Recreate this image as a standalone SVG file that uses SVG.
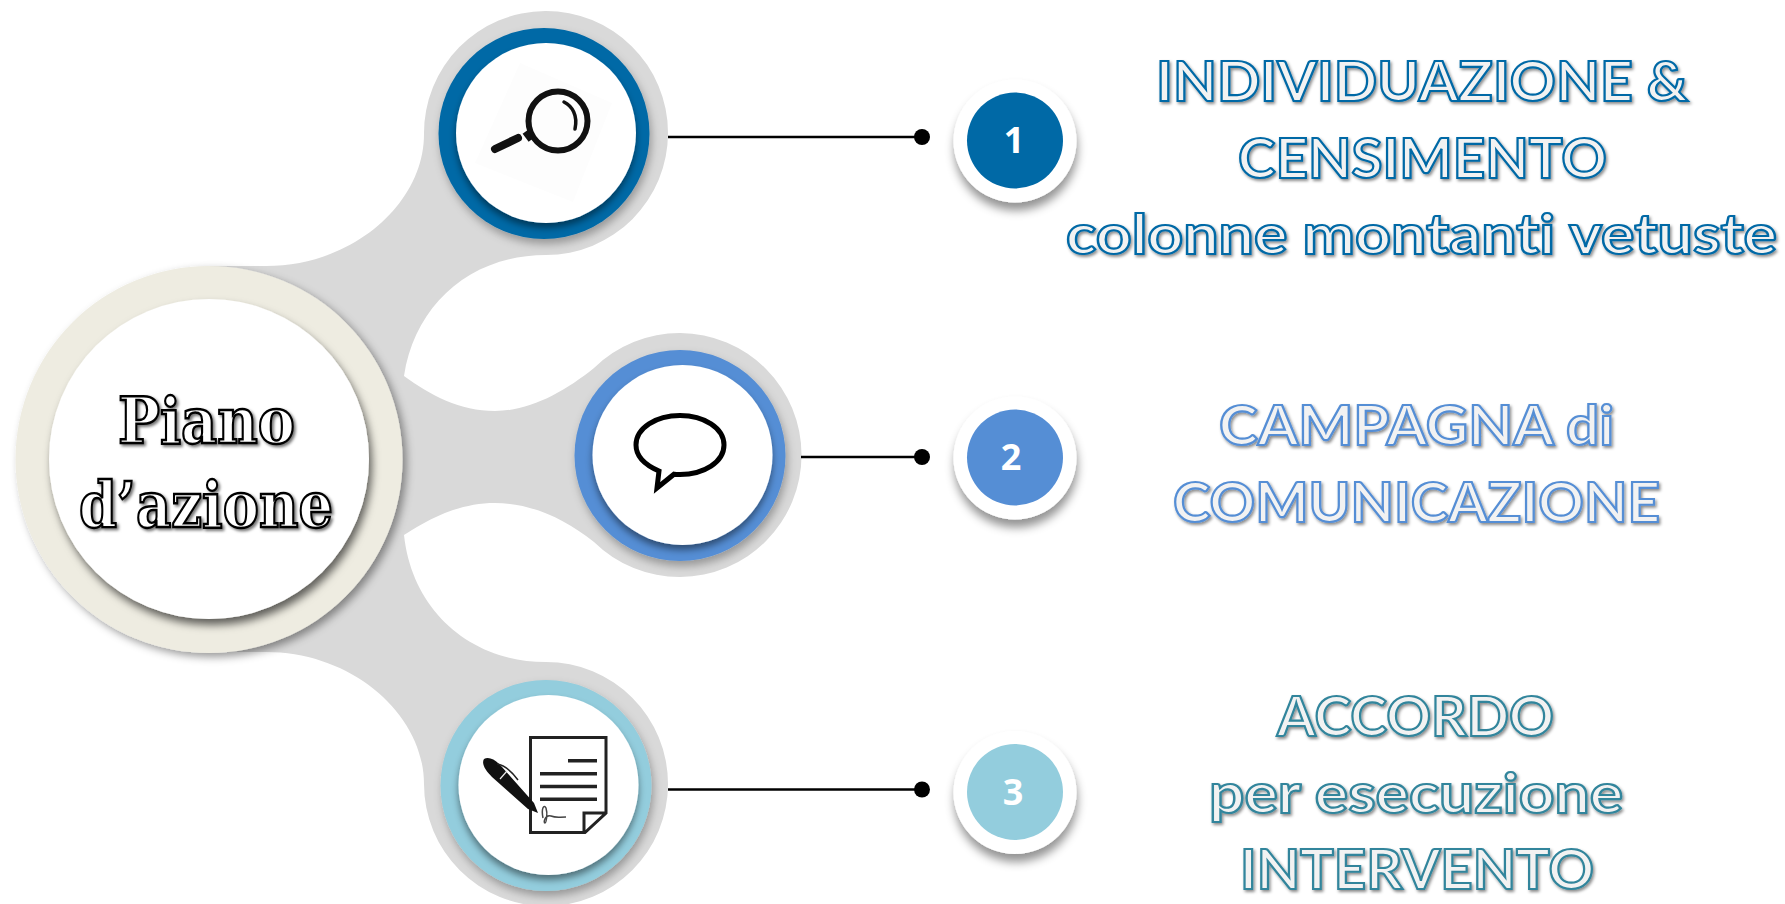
<svg xmlns="http://www.w3.org/2000/svg" width="1785" height="904" viewBox="0 0 1785 904">
<style>
.ring{filter:url(#sh)}
.inner{fill:#fff;filter:url(#sh2)}
.num{fill:#fff;filter:url(#sh3)}
.n{font:700 36px "Open Sans","Liberation Sans",sans-serif;fill:#fff;text-anchor:middle}
.t{font-family:Lato,"Liberation Sans",sans-serif;font-weight:700;font-size:56px;font-variant-ligatures:none;fill:#f2f2f2;stroke-width:2.2;filter:url(#ts)}
.a{stroke:#0069a6}.b{stroke:#558ed5}.c{stroke:#31859c}
.p{font-family:"DejaVu Serif","Liberation Serif",serif;font-weight:700;font-size:63px;font-variant-ligatures:none;fill:#fff;stroke:#000;stroke-width:2.4;filter:url(#ts2)}
.ln{stroke:#000;stroke-width:2.6;fill:none}
</style>
<defs>
<filter id="sh" x="-20%" y="-20%" width="140%" height="140%"><feDropShadow dx="2" dy="5" stdDeviation="4" flood-color="#000" flood-opacity=".3"/></filter>
<filter id="sh2" x="-20%" y="-20%" width="140%" height="140%"><feDropShadow dx="0" dy="5" stdDeviation="3.500" flood-color="#000" flood-opacity=".45"/></filter>
<filter id="sh3" x="-30%" y="-30%" width="160%" height="160%"><feDropShadow dx="1" dy="8" stdDeviation="5" flood-color="#000" flood-opacity=".42"/></filter>
<filter id="sh4" x="-20%" y="-20%" width="140%" height="140%"><feDropShadow dx="3" dy="6" stdDeviation="4" flood-color="#000" flood-opacity=".6"/></filter>
<filter id="sh5" x="-20%" y="-20%" width="140%" height="140%"><feDropShadow dx="4" dy="4" stdDeviation="4" flood-color="#000" flood-opacity=".4"/></filter>
<filter id="ts" x="-5%" y="-20%" width="110%" height="140%"><feDropShadow dx="1.500" dy="2" stdDeviation="1.600" flood-color="#000" flood-opacity=".45"/></filter>
<filter id="ts2" x="-5%" y="-20%" width="110%" height="140%"><feDropShadow dx="2" dy="2" stdDeviation="1.500" flood-color="#000" flood-opacity=".55"/></filter>
</defs>

<path id="blob" fill="#d9d9d9" d="M209,266 H262 C350,268 424,205 424,134 A122,122 0 1 1 546,255 C470,255 415,305 404,376 C430,395 460,411 495,411 C530,411 564,392 594,368 A122,122 0 1 1 594,542 C564,518 530,503 495,503 C460,503 430,518 404,535 C412,610 470,662 546,662 A122,122 0 1 1 424,784 C424,713 350,650 262,652 H209 Z"/>

<g id="connectors">
<path class="ln" d="M668,137 H922"/><circle cx="922" cy="137" r="8"/>
<path class="ln" d="M801,457 H922"/><circle cx="922" cy="457" r="8"/>
<path class="ln" d="M668,789.500 H922"/><circle cx="922" cy="789.500" r="8"/>
</g>

<g id="node-center">
<circle cx="209" cy="459.500" r="193.500" fill="#eeece1" filter="url(#sh5)"/>
<circle cx="209" cy="459" r="160" fill="#fff" filter="url(#sh4)"/>
<text class="p" x="118" y="443" textLength="177" lengthAdjust="spacingAndGlyphs">Piano</text>
<text class="p" x="79" y="527" textLength="254" lengthAdjust="spacingAndGlyphs">d’azione</text>
</g>

<g id="node-search">
<circle class="ring" cx="544" cy="133.500" r="105.500" fill="#0069a6"/>
<circle class="inner" cx="546" cy="133" r="90"/>
<polygon points="520,63 612,103 573,202 475,163" fill="#fdfdfd"/>
<circle cx="558" cy="121" r="29.500" fill="none" stroke="#111" stroke-width="6"/>
<path d="M564,102 C572,106 578,115 575,129" fill="none" stroke="#111" stroke-width="3.500" stroke-linecap="round"/>
<path d="M495,149 L518,138" fill="none" stroke="#111" stroke-width="8" stroke-linecap="round"/>
<path d="M525,132 L531,140" fill="none" stroke="#111" stroke-width="6"/>
</g>

<g id="node-speech">
<circle class="ring" cx="680" cy="455.500" r="105.500" fill="#558ed5"/>
<circle class="inner" cx="682.500" cy="455" r="90"/>
<path d="M659,471 C645,465 636,456 636,445 C636,428 656,415.500 680,415.500 C704,415.500 724,428 724,445 C724,462 704,474.500 680,474.500 C678,474.500 676,474.500 674,474.200 L657,488 Z" fill="#fff" stroke="#000" stroke-width="5"/>
</g>

<g id="node-sign">
<circle class="ring" cx="546" cy="785.500" r="105.500" fill="#93cddd"/>
<circle class="inner" cx="548.500" cy="785" r="90"/>
<path d="M530.500,737.500 H606 V813 L585,832.500 H530.500 Z M584,832 V813 H606" fill="none" stroke="#222" stroke-width="3"/>
<path d="M568,760.700 H597 M540,773.700 H597 M540,786.500 H597 M540,799.300 H597" stroke="#222" stroke-width="3.500" fill="none"/>
<path d="M484,759 C489,756 496,760 502,767 L534,803 L538,813 L528,809 L492,777 C486,771 481,764 484,759 Z" fill="#111"/>
<path d="M497,764 C505,765 512,772 518,780" fill="none" stroke="#222" stroke-width="1.500"/>
<path d="M500,779 L507,771" stroke="#eee" stroke-width="1.200"/>
<path d="M543,818 C541,808 544,804 546,808 C548,814 546,823 545,823 C543,823 545,814 551,816 C556,818 558,817 566,817" fill="none" stroke="#444" stroke-width="1.500"/>
</g>

<g id="node-num1">
<circle class="num" cx="1015" cy="141" r="61.500"/>
<circle cx="1015" cy="140.500" r="48" fill="#0069a6"/>
<text class="n" x="1014" y="153">1</text>
</g>
<g id="node-num2">
<circle class="num" cx="1015" cy="458" r="61.500"/>
<circle cx="1015" cy="457.500" r="48" fill="#558ed5"/>
<text class="n" x="1011" y="470">2</text>
</g>
<g id="node-num3">
<circle class="num" cx="1015" cy="792.500" r="61.500"/>
<circle cx="1015" cy="792" r="48" fill="#93cddd"/>
<text class="n" x="1013" y="805">3</text>
</g>

<g id="label1">
<text class="t a" x="1156" y="100.700" textLength="532" lengthAdjust="spacingAndGlyphs">INDIVIDUAZIONE &amp;</text>
<text class="t a" x="1238" y="177.700" textLength="369" lengthAdjust="spacingAndGlyphs">CENSIMENTO</text>
<text class="t a" x="1066" y="254" textLength="711" lengthAdjust="spacingAndGlyphs">colonne montanti vetuste</text>
</g>
<g id="label2">
<text class="t b" x="1219" y="445" textLength="395" lengthAdjust="spacingAndGlyphs">CAMPAGNA di</text>
<text class="t b" x="1173" y="521.500" textLength="487" lengthAdjust="spacingAndGlyphs">COMUNICAZIONE</text>
</g>
<g id="label3">
<text class="t c" x="1277" y="736" textLength="277" lengthAdjust="spacingAndGlyphs">ACCORDO</text>
<text class="t c" x="1209" y="813" textLength="414" lengthAdjust="spacingAndGlyphs">per esecuzione</text>
<text class="t c" x="1240" y="889" textLength="354" lengthAdjust="spacingAndGlyphs">INTERVENTO</text>
</g>
</svg>
